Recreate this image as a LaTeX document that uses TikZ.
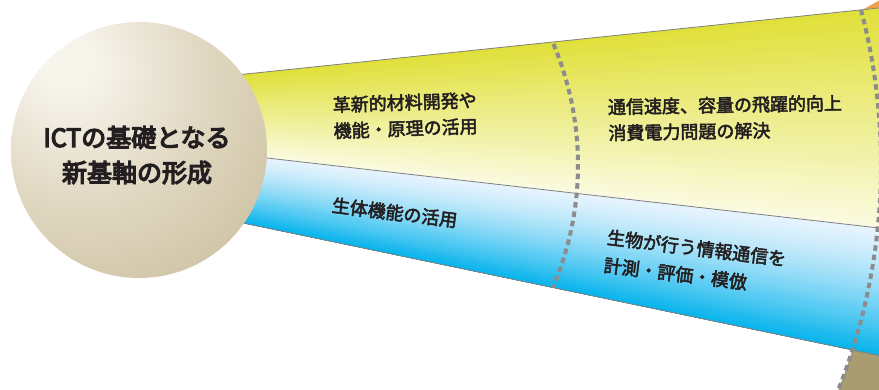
\documentclass[tikz,border=0pt]{standalone}
\usepackage{fontspec}
\setmainfont{Noto Sans CJK JP}
\usetikzlibrary{calc}
\newcommand\heavytext[2]{\special{pdf:literal direct 2 Tr #1 w}#2\special{pdf:literal direct 0 Tr}}
\definecolor{yt}{HTML}{E0E03A}
\definecolor{yb}{HTML}{FBFBE3}
\definecolor{bt}{HTML}{E4F3FD}
\definecolor{bb}{HTML}{00B2EC}
\definecolor{edgegray}{HTML}{808080}
\definecolor{dashgray}{HTML}{8C8C8C}
\definecolor{olivebox}{HTML}{A89C70}
\definecolor{orangebox}{HTML}{EFA04C}
\definecolor{txt}{HTML}{231F20}
\definecolor{sphA}{HTML}{F7F4EC}
\definecolor{sphB}{HTML}{E0D7C1}
\definecolor{sphC}{HTML}{CBBF9E}
\definecolor{sphD}{HTML}{B0A074}
\pgfdeclareradialshading{sphshade}{\pgfpoint{-15bp}{18bp}}{color(0bp)=(sphA); color(5bp)=(sphA); color(25bp)=(sphB); color(45bp)=(sphC); color(66bp)=(sphD); color(100bp)=(sphD)}
\tikzset{
  edgeline/.style={draw=edgegray, line width=0.8pt},
  dasharc/.style={draw=dashgray, line width=4pt, dash pattern=on 5.5pt off 4pt},
  bandtext/.style={text=txt, font=\fontsize{18}{26}\selectfont, align=left, inner sep=0pt, anchor=west},
}
\begin{document}
\begin{tikzpicture}[x=1pt,y=-1pt]
\useasboundingbox (0,0) rectangle (879,389);
% band geometry
\coordinate (T0) at (150,84);
\coordinate (T1) at (879,8);
\coordinate (D0) at (150,144.6);
\coordinate (D1) at (879,228);
\coordinate (B0) at (150,203.6);
\coordinate (B1) at (879,355.5);
\coordinate (C) at (268,165);
% yellow band gradient
\foreach \i in {0,...,40}{
  \pgfmathsetmacro\t{\i/40}
  \pgfmathtruncatemacro\p{100*(1-\t)}
  \fill[yt!\p!yb] ($(T0)!\t!(D0)$) -- ($(T1)!\t!(D1)$) -- (D1) -- (D0) -- cycle;
}
% blue band gradient
\foreach \i in {0,...,40}{
  \pgfmathsetmacro\t{\i/40}
  \pgfmathtruncatemacro\p{100*(\t^1.3)}
  \fill[bb!\p!bt] ($(D0)!\t!(B0)$) -- ($(D1)!\t!(B1)$) -- (B1) -- (B0) -- cycle;
}
% olive region beyond outer arc, below the fan
\begin{scope}
  \clip (B0) -- ($(B0)!1.1!(B1)$) -- (1000,500) -- (150,500) -- cycle;
  \fill[olivebox] (C) ++(15:613) arc[start angle=15, end angle=24, radius=613] -- (1000,500) -- (1000,300) -- cycle;
\end{scope}
% orange wedge top right
\fill[orangebox] (863,9.5) -- (879,7.6) -- (879,0.5) -- cycle;
% edges
\draw[edgeline] (T0) -- (T1);
\draw[edgeline] (D0) -- (D1);
\draw[edgeline] (B0) -- (B1);
% dashed arcs
\begin{scope}
  \clip (T0) -- (T1) -- (B1) -- (B0) -- cycle;
  \draw[dasharc] (C) ++(-30:310) arc[start angle=-30, end angle=30, radius=310];
\end{scope}
\begin{scope}
  \clip (T0) -- (T1) -- (879,389) -- (150,389) -- cycle;
  \draw[dasharc] (C) ++(-20:613) arc[start angle=-20, end angle=24, radius=613];
\end{scope}
% sphere
\node[circle, minimum size=256pt, inner sep=0pt, shading=sphshade] (sphere) at (139,150) {};
\node[text=txt, font=\fontsize{25}{35}\selectfont, align=center, inner sep=0pt] (title) at (137,155) {\heavytext{1.3}{ICTの基礎となる}\\\heavytext{1.3}{新基軸の形成}};
% band texts
\node[bandtext, rotate=2] (mat) at (333,118) {\heavytext{0.5}{革新的材料開発や}\\\heavytext{0.5}{機能・原理の活用}};
\node[bandtext, rotate=1] (comm) at (608,120) {\heavytext{0.5}{通信速度、容量の飛躍的向上}\\\heavytext{0.5}{消費電力問題の解決}};
\node[bandtext, rotate=-7] (bio) at (332,205) {\heavytext{0.5}{生体機能の活用}};
\node[bandtext, rotate=-7, font=\fontsize{18}{28}\selectfont] (bioinfo) at (605.5,251) {\heavytext{0.5}{生物が行う情報通信を}\\\heavytext{0.5}{計測・評価・模倣}};
\end{tikzpicture}
\end{document}
